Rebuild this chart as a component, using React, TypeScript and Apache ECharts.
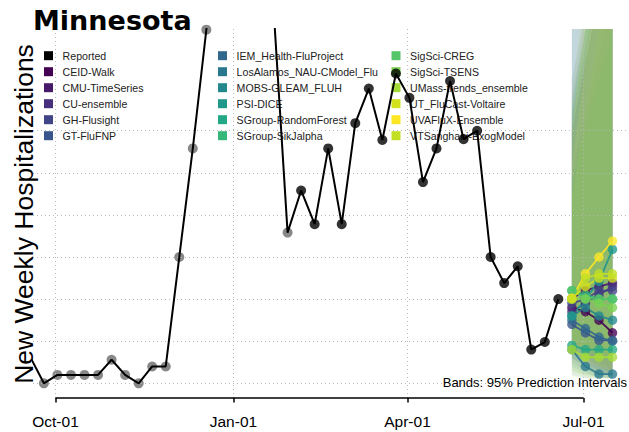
import React, { useEffect, useRef } from 'react';
import * as echarts from 'echarts';

// ---------- data ----------
const reportedDates = [
  '2021-09-18', '2021-09-25', '2021-10-02', '2021-10-09', '2021-10-16', '2021-10-23', '2021-10-30',
  '2021-11-06', '2021-11-13', '2021-11-20', '2021-11-27', '2021-12-04', '2021-12-11', '2021-12-18',
  '2021-12-25', '2022-01-01', '2022-01-08', '2022-01-15', '2022-01-22', '2022-01-29', '2022-02-05',
  '2022-02-12', '2022-02-19', '2022-02-26', '2022-03-05', '2022-03-12', '2022-03-19', '2022-03-26',
  '2022-04-02', '2022-04-09', '2022-04-16', '2022-04-23', '2022-04-30', '2022-05-07', '2022-05-14',
  '2022-05-21', '2022-05-28', '2022-06-04', '2022-06-11', '2022-06-18',
];
const reportedValues = [
  31, 0, 10, 10, 10, 10, 28, 10, 0, 20, 20, 150, 279, 420, 560, 690, 760, 620, 436, 179,
  229, 189, 279, 189, 309, 350, 289, 368, 339, 239, 279, 359, 290, 300, 150, 119, 139, 40, 49, 100,
];
const greyPointCount = 20;

const forecastDates = ['2022-06-25', '2022-07-02', '2022-07-09', '2022-07-16'];

const modelNames = [
  'CEID-Walk', 'CMU-TimeSeries', 'CU-ensemble', 'GH-Flusight', 'GT-FluFNP',
  'IEM_Health-FluProject', 'LosAlamos_NAU-CModel_Flu', 'MOBS-GLEAM_FLUH', 'PSI-DICE',
  'SGroup-RandomForest', 'SGroup-SikJalpha',
  'SigSci-CREG', 'SigSci-TSENS', 'UMass-trends_ensemble', 'UT_FluCast-Voltaire',
  'UVAFluX-Ensemble', 'VTSanghani-ExogModel',
];
const modelColors = [
  '#440154', '#481a6c', '#472f7d', '#414487', '#39568c',
  '#31688e', '#2a788e', '#23888e', '#1f988b',
  '#22a884', '#35b779',
  '#54c568', '#7ad151', '#a5db36', '#d2e21b',
  '#fde725', '#c2df23',
];
const modelMedians = [
  [90, 85, 75, 60],
  [101, 110, 115, 119],
  [85, 95, 105, 115],
  [95, 100, 110, 110],
  [70, 60, 51, 51],
  [75, 65, 55, 50],
  [40, 20, 11, 11],
  [80, 90, 80, 75],
  [80, 100, 121, 159],
  [45, 40, 40, 40],
  [110, 105, 100, 100],
  [110, 101, 100, 100],
  [100, 100, 95, 90],
  [40, 31, 31, 31],
  [101, 115, 125, 125],
  [101, 130, 150, 169],
  [100, 125, 130, 130],
];
const modelLower = [
  [40, 25, 15, 8],
  [50, 35, 25, 15],
  [30, 20, 12, 8],
  [45, 30, 20, 12],
  [25, 15, 8, 6],
  [20, 12, 6, 6],
  [10, 6, 6, 6],
  [30, 20, 12, 8],
  [35, 30, 30, 35],
  [15, 10, 8, 6],
  [55, 40, 30, 25],
  [50, 35, 25, 20],
  [40, 30, 20, 12],
  [8, 6, 6, 6],
  [50, 40, 35, 30],
  [35, 25, 20, 15],
  [15, 8, 6, 6],
];
const modelUpper = [
  [300, 380, 460, 540],
  [320, 400, 480, 560],
  [480, 560, 640, 720],
  [340, 420, 500, 580],
  [300, 380, 460, 540],
  [360, 440, 520, 600],
  [250, 320, 390, 460],
  [460, 560, 660, 760],
  [420, 520, 620, 720],
  [240, 300, 360, 420],
  [330, 420, 510, 600],
  [320, 420, 520, 620],
  [300, 420, 540, 660],
  [220, 320, 420, 520],
  [260, 380, 500, 620],
  [300, 440, 580, 720],
  [340, 480, 620, 760],
];

const xTickDates = ['2021-10-01', '2022-01-01', '2022-04-01', '2022-07-01'];
const xTickLabels = ['Oct-01', 'Jan-01', 'Apr-01', 'Jul-01'];
const yGridValues = [0, 50, 100, 150, 200, 250, 300];

// ---------- helpers ----------
const DAY = 86400000;
const ts = (d: string) => Date.parse(d + 'T00:00:00Z');

export default function App() {
  const ref = useRef<HTMLDivElement>(null);

  useEffect(() => {
    if (!ref.current) return;
    const chart = echarts.init(ref.current, undefined, { renderer: 'svg' });

    const xMin = ts(xTickDates[0]) - 11.63 * DAY;
    const xMax = ts(xTickDates[3]) + 23.53 * DAY;
    const yMin = -17.46;
    const yMax = 420.8;

    const tickTs = xTickDates.map(ts);
    const labelMap: Record<number, string> = {};
    tickTs.forEach((t, i) => { labelMap[t] = xTickLabels[i]; });

    const reportedPairs = reportedDates.map((d, i) => [ts(d), reportedValues[i]]);
    const greyPts = reportedPairs.slice(0, greyPointCount);
    const blackPts = reportedPairs.slice(greyPointCount);

    const gridLine = {
      type: [1, 3] as any,
      color: '#b8b8b8',
      width: 1,
    };

    const legendText = {
      fontFamily: 'Liberation Sans',
      fontSize: 10.6,
      color: '#222',
      lineHeight: 9,
      padding: [0, 0, 0, 4.6],
    };
    const legendNames = ['Reported', ...modelNames];
    const legendItems = legendNames.map((n, i) => ({
      name: n,
      itemStyle: { color: i === 0 ? '#000' : modelColors[i - 1], opacity: 1 },
    }));
    const makeLegend = (items: any[], left: number, bg: boolean) => ({
      data: items,
      orient: 'vertical',
      left: left - 4,
      top: 46.2,
      padding: [4, 4, 0, 4],
      itemWidth: 9,
      itemHeight: 9,
      itemGap: 5,
      icon: 'rect',
      selectedMode: false,
      backgroundColor: bg ? '#ffffff' : 'transparent',
      textStyle: legendText,
      z: 2,
    });

    const modelSeries = modelNames.map((name, i) => ({
      type: 'line',
      name,
      z: 7,
      data: forecastDates.map((d, h) => [ts(d), modelMedians[i][h]]),
      symbol: 'circle',
      symbolSize: 9.5,
      showSymbol: true,
      itemStyle: { color: modelColors[i], opacity: 0.78, borderWidth: 0 },
      lineStyle: { color: modelColors[i], width: 1.8, opacity: 0.9 },
      emphasis: { disabled: true },
      silent: true,
    }));

    chart.setOption({
      animation: false,
      backgroundColor: '#ffffff',
      grid: { left: 33, right: 0, top: 29, bottom: 34, containLabel: false },
      legend: [
        makeLegend(legendItems.slice(0, 6), 44, true),
        makeLegend(legendItems.slice(6, 12), 218, true),
        makeLegend(legendItems.slice(12, 18), 391.5, false),
      ],
      xAxis: {
        type: 'value',
        min: xMin,
        max: xMax,
        axisLine: { show: false, onZero: false },
        splitLine: { show: false },
        axisTick: {
          show: true,
          inside: false,
          customValues: tickTs,
          length: 4.5,
          lineStyle: { color: '#000', width: 1.5 },
        },
        axisLabel: {
          show: true,
          customValues: tickTs,
          formatter: (v: number) => labelMap[v] ?? '',
          fontFamily: 'Liberation Sans',
          fontSize: 15.5,
          color: '#000',
          margin: 15,
        },
      },
      yAxis: {
        type: 'value',
        min: yMin,
        max: yMax,
        show: false,
        splitLine: { show: false },
      },
      series: [
        {
          type: 'line',
          name: '_grid',
          data: [],
          z: 1,
          silent: true,
          markLine: {
            silent: true,
            symbol: ['none', 'none'],
            label: { show: false },
            emphasis: { disabled: true },
            lineStyle: gridLine,
            data: [
              ...tickTs.map((t) => ({ xAxis: t })),
              ...yGridValues.map((v) => ({ yAxis: v })),
            ],
          },
        },
        {
          type: 'line',
          name: '_axis',
          data: [[tickTs[0], yMin], [tickTs[3], yMin]],
          z: 8,
          clip: false,
          silent: true,
          symbol: 'none',
          showSymbol: false,
          lineStyle: { color: '#000', width: 1.5 },
        },
        {
          type: 'custom',
          name: '_bands',
          z: 3,
          clip: true,
          silent: true,
          data: modelNames.map((_, i) => [ts(forecastDates[0]), modelMedians[i][0]]),
          renderItem: (params: any, api: any) => {
            const i = params.dataIndex;
            const up = forecastDates.map((d, h) => api.coord([ts(d), modelUpper[i][h]]));
            const lo = forecastDates.map((d, h) => api.coord([ts(d), modelLower[i][h]])).reverse();
            return {
              type: 'polygon',
              shape: { points: up.concat(lo) },
              style: { fill: modelColors[i], opacity: 0.105 },
            };
          },
        },
        {
          type: 'scatter',
          name: '_reportedGrey',
          z: 4,
          data: greyPts,
          symbol: 'circle',
          symbolSize: 10,
          itemStyle: { color: '#6a6a6a' },
          silent: true,
        },
        {
          type: 'line',
          name: 'Reported',
          z: 5,
          data: reportedPairs,
          showSymbol: false,
          symbol: 'none',
          lineStyle: { color: '#000', width: 2 },
          itemStyle: { color: '#000' },
          silent: true,
        },
        {
          type: 'scatter',
          name: '_reportedBlack',
          z: 6,
          data: blackPts,
          symbol: 'circle',
          symbolSize: 10,
          itemStyle: { color: '#000' },
          silent: true,
        },
        ...modelSeries,
      ],
      graphic: [
        {
          type: 'text',
          x: 33,
          y: 20,
          z: 20,
          style: {
            text: 'Minnesota',
            fontFamily: 'DejaVu Sans',
            fontWeight: 'bold',
            fontSize: 27,
            fill: '#000',
            align: 'left',
            verticalAlign: 'middle',
          },
        },
        {
          type: 'text',
          x: 23.5,
          y: 214,
          rotation: Math.PI / 2,
          z: 20,
          style: {
            text: 'New Weekly Hospitalizations',
            fontFamily: 'Liberation Sans',
            fontSize: 26.5,
            fill: '#000',
            align: 'center',
            verticalAlign: 'middle',
          },
        },
        {
          type: 'text',
          x: 627,
          y: 382.5,
          z: 20,
          style: {
            text: 'Bands: 95% Prediction Intervals',
            fontFamily: 'Liberation Sans',
            fontSize: 13,
            fill: '#000',
            align: 'right',
            verticalAlign: 'middle',
          },
        },
      ],
    });

    return () => chart.dispose();
  }, []);

  return (
    <div
      ref={ref}
      style={{ position: 'fixed', left: 0, top: 0, width: 629, height: 432 }}
    />
  );
}
